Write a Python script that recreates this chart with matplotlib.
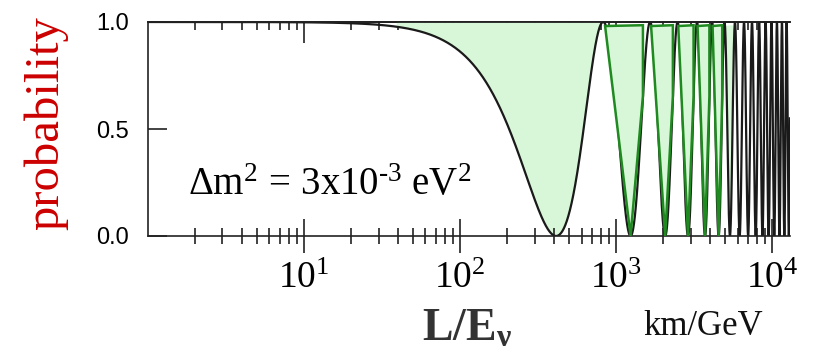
import numpy as np
import matplotlib

matplotlib.use("Agg")
import matplotlib.pyplot as plt
from matplotlib.patches import Polygon

plt.rcParams["mathtext.fontset"] = "custom"
plt.rcParams["mathtext.rm"] = "Liberation Serif"
plt.rcParams["mathtext.it"] = "Liberation Serif:italic"
plt.rcParams["mathtext.bf"] = "Liberation Serif:bold"

# two-flavour survival probability, full mixing
dm2 = 3e-3            # eV^2
sin2_2theta = 1.0
le_range = [1.0, 1.3e4]   # km/GeV
first_fill_start = 39.0   # km/GeV, shading of the first dip starts here
outlined_dips = [2, 3, 4, 5, 6]
plain_dips = [7]

x_ticks = [10, 100, 1000, 10000]
x_tick_labels = [r"$\mathrm{10^{1}}$", r"$\mathrm{10^{2}}$", r"$\mathrm{10^{3}}$", r"$\mathrm{10^{4}}$"]
y_ticks = [0.0, 0.5, 1.0]
y_tick_labels = ["0.0", "0.5", "1.0"]

LIGHT_GREEN = "#d8f7d8"
DARK_GREEN = "#1f8a1f"


def survival(le):
    return 1.0 - sin2_2theta * np.sin(1.27 * dm2 * le) ** 2


def le_at_phase(phase):
    return phase / (1.27 * dm2)


le = np.logspace(np.log10(le_range[0]), np.log10(le_range[1]), 40000)
prob = survival(le)

fig = plt.figure(figsize=(8.2, 3.53), dpi=100)
ax = fig.add_axes([148 / 820, 1 - 236 / 353, (790 - 148) / 820, (236 - 22) / 353])
ax.set_xscale("log")
ax.set_xlim(*le_range)
ax.set_ylim(0.0, 1.0)

# shaded first dip
first_max = le_at_phase(np.pi)
mask = (le >= first_fill_start) & (le <= first_max)
ax.fill_between(le[mask], prob[mask], 1.0, color=LIGHT_GREEN, lw=0, zorder=1)

ax.plot(le, prob, color="#1a1a1a", lw=1.6, zorder=2)

# coarse outlined dips
for k in outlined_dips + plain_dips:
    xl = le_at_phase((k - 1 + 0.03) * np.pi)
    xm = le_at_phase((k - 0.5) * np.pi)
    xr = le_at_phase((k - 0.2) * np.pi)
    pts = [(xl, survival(xl) - 0.01), (xm, survival(xm)), (xr, survival(xr)), (xr, 0.985)]
    if k in outlined_dips:
        poly = Polygon(pts, closed=True, facecolor=LIGHT_GREEN, edgecolor=DARK_GREEN, lw=1.8, zorder=3)
    else:
        poly = Polygon(pts, closed=True, facecolor=LIGHT_GREEN, edgecolor="none", zorder=1.5)
    ax.add_patch(poly)

for side in ["top", "left", "bottom"]:
    ax.spines[side].set_linewidth(1.2)
    ax.spines[side].set_color("#222222")
ax.spines["right"].set_visible(False)

ax.set_xticks(x_ticks)
ax.set_xticklabels(x_tick_labels, fontsize=27, family="Liberation Serif")
ax.set_yticks(y_ticks)
ax.set_yticklabels(y_tick_labels, fontsize=17, family="Liberation Sans")
ax.tick_params(axis="x", which="major", direction="inout", length=24, width=1.2, pad=6, color="#222222")
ax.tick_params(axis="x", which="minor", direction="inout", length=11, width=1.2, color="#222222")
ax.tick_params(axis="y", which="major", direction="in", length=14, width=1.2, pad=14, color="#222222")
ax.tick_params(axis="x", which="minor", labelbottom=False)

top = ax.secondary_xaxis("top")
top.set_xticks(x_ticks)
top.tick_params(axis="x", which="major", direction="in", length=15, width=1.2, labeltop=False, color="#222222")
top.tick_params(axis="x", which="minor", direction="in", length=6, width=1.2, labeltop=False, color="#222222")
top.spines["top"].set_linewidth(1.2)

ax.text(0.062, 0.19, "$\\Delta\\mathrm{m}^{2}\\, = \\,3\\mathrm{x}10^{\\mathrm{\u2010}3}\\ \\mathrm{eV}^{2}$",
        transform=ax.transAxes, fontsize=28, ha="left", va="baseline", zorder=5)

fig.text(46 / 820, 1 - 123 / 353, "probability", rotation=90, color="#cc0000",
         fontsize=35, family="Liberation Serif", ha="center", va="center")
fig.text(422 / 820, 1 - 341 / 353, r"$\mathbf{L/E}_{\mathbf{\nu}}$", color="#333333",
         fontsize=33, ha="left", va="baseline")
fig.text(703 / 820, 1 - 335 / 353, "km/GeV", color="#111111",
         fontsize=25, family="Liberation Serif", ha="center", va="baseline")

fig.savefig("out.png", dpi=100)
